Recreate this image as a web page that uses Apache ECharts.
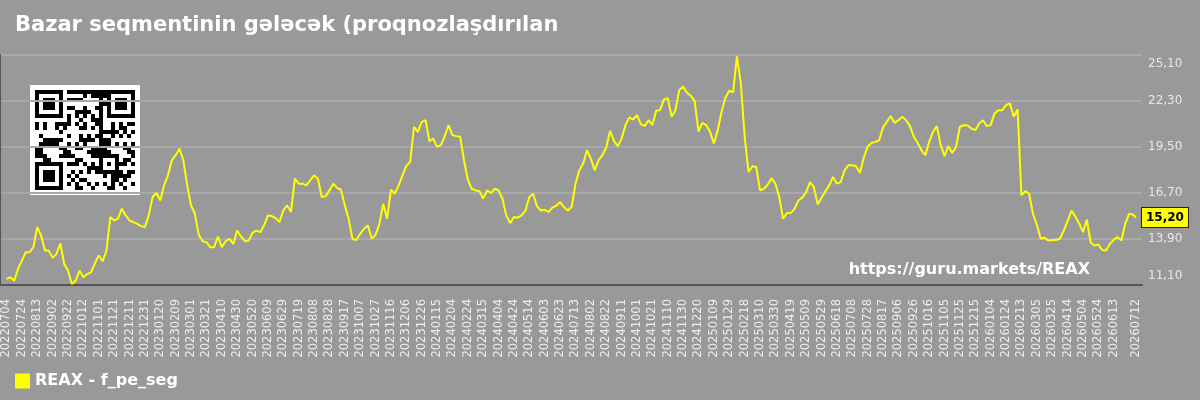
<!DOCTYPE html>
<html><head><meta charset="utf-8">
<script src="https://cdn.jsdelivr.net/npm/echarts@6/dist/echarts.min.js"></script>
<style>html,body{margin:0;padding:0;background:#999999;}#c{width:1200px;height:400px;}</style>
</head><body><div id="c"></div>
<script>
// ---- data ----
const startDate = [2022, 7, 4];   // first category 20220704
const endDate = [2026, 7, 12];    // last category 20260712
const yTicks = [11.1, 13.9, 16.7, 19.5, 22.3, 25.1];
const sampleStep = 5; // values read every 5th day
const valuesA = [11.47,11.57,11.36,12.08,12.58,13.09,13.09,13.40,14.62,14.11,
13.19,13.19,12.75,12.99,13.64,12.38,11.97,11.16,11.36,11.97,
11.57,11.77,11.87,12.42,12.89,12.54,13.19,15.23,15.02,15.13,
15.74,15.33,15.02,14.92,14.82,14.68,14.62,15.33,16.45,16.69,
16.24,17.16,17.77,18.68,18.99,19.39,18.68,17.16,15.94,15.43,
14.15,13.76,13.70,13.40,13.40,14.05,13.40,13.76,13.91,13.60,
14.41,14.05,13.76,13.80,14.27,14.41,14.31,14.72,15.33,15.29,
15.17,14.92,15.63,15.94,15.53,17.56,17.26];
const valuesB = [17.26,17.16,17.46,17.77,17.56,16.45,16.49,16.85,17.26,17.00,
16.89,15.94,15.13,13.89,13.84,14.21,14.52,14.72,13.91,14.15,
14.82,16.04,15.13,16.89,16.65,17.16,17.77,18.34,18.58,20.72,
20.41,21.02,21.12,19.84,20.00,19.50,19.60,20.15,20.82,20.21,
20.15,20.11,18.68,17.50,16.95,16.85,16.81,16.35,16.85,16.69,
16.95,16.85,16.35,15.33,14.86,15.23,15.19,15.33,15.63,16.45,
16.65,15.88,15.63,15.67,15.53,15.80,15.92,16.14,15.84,15.63,
15.84,17.26,18.07,18.48,19.29,18.78,18.07,18.68];
const valuesC = [18.99,19.46,20.47,19.86,19.54,20.00,20.82,21.29,21.16,21.43,
20.88,20.76,21.12,20.82,21.69,21.73,22.38,22.46,21.33,21.73,
22.95,23.16,22.79,22.59,22.30,20.43,20.96,20.82,20.41,19.70,
20.51,21.63,22.48,22.91,22.81,25.00,23.39,20.15,17.97,18.32,
18.28,16.85,16.95,17.20,17.59,17.26,16.45,15.13,15.47,15.47,
15.74,16.24,16.41,16.75,17.36,17.06,16.00,16.41,16.79,17.16,
17.67,17.26,17.36,18.07,18.38,18.38,18.32,17.91,18.85,19.50,
19.74,19.80,19.90,20.68,21.02,21.37,20.96,21.12];
const valuesD = [21.33,21.12,20.76,20.11,19.74,19.29,18.99,19.80,20.41,20.76,
19.60,18.93,19.54,19.13,19.50,20.72,20.82,20.80,20.61,20.51,
20.92,21.12,20.76,20.82,21.53,21.73,21.73,22.04,22.14,21.33,
21.77,16.55,16.81,16.65,15.43,14.78,13.91,13.97,13.80,13.84,
13.84,13.91,14.41,14.98,15.63,15.27,14.86,14.31,15.08,13.70,
13.50,13.56,13.23,13.19,13.60,13.84,14.01,13.80,14.82,15.43,
15.39];
const lastValue = 15.20;
const seriesName = 'REAX - f_pe_seg';
const titleText = 'Bazar seqmentinin gələcək (proqnozlaşdırılan';
const watermark = 'https://guru.markets/REAX';

// ---- build categories ----
const pad = n => (n < 10 ? '0' : '') + n;
const categories = [];
{
  let t = Date.UTC(startDate[0], startDate[1]-1, startDate[2]);
  const tEnd = Date.UTC(endDate[0], endDate[1]-1, endDate[2]);
  while (t <= tEnd) {
    const d = new Date(t);
    categories.push('' + d.getUTCFullYear() + pad(d.getUTCMonth()+1) + pad(d.getUTCDate()));
    t += 86400000;
  }
}
const last = categories.length - 1;
const sampleValues = valuesA.concat(valuesB, valuesC, valuesD);
const seriesData = sampleValues.map((v, i) => [i * sampleStep, v]);
seriesData.push([last, lastValue]);

const fmt = v => v.toFixed(2).replace('.', ',');

// ---- QR-like decoration ----
function qrChildren() {
  const N = 25, M = 4, B = 5, out = [];
  out.push({type:'rect', shape:{x:0,y:0,width:N*M+2*B,height:N*M+2*B}, style:{fill:'#fff'}});
  const inFinder = (r, c, r0, c0) => {
    const rr = r - r0, cc = c - c0;
    if (rr < 0 || cc < 0 || rr > 6 || cc > 6) return null;
    if (rr === 0 || rr === 6 || cc === 0 || cc === 6) return true;
    if (rr >= 2 && rr <= 4 && cc >= 2 && cc <= 4) return true;
    return false;
  };
  for (let r = 0; r < N; r++) for (let c = 0; c < N; c++) {
    let dark = null;
    for (const [r0, c0] of [[0,0],[0,N-7],[N-7,0]]) {
      const f = inFinder(r, c, r0, c0); if (f !== null) dark = f;
    }
    if (dark === null) {
      if ((r === 7 && (c < 8 || c > N-9)) || (c === 7 && (r < 8 || r > N-9)) || (r === N-8 && c === 7)) dark = false;
      else if (r >= 16 && r <= 20 && c >= 16 && c <= 20) {
        const rr = r - 16, cc = c - 16;
        dark = (rr === 0 || rr === 4 || cc === 0 || cc === 4 || (rr === 2 && cc === 2));
      } else if (r === 6) dark = c % 2 === 0;
      else if (c === 6) dark = r % 2 === 0;
      else dark = ((r * 7 + c * 13 + r * c * 3 + (r ^ c)) % 7) < 3;
    }
    if (dark) out.push({type:'rect', shape:{x:B+c*M, y:B+r*M, width:M, height:M}, style:{fill:'#000'}});
  }
  return out;
}

const chart = echarts.init(document.getElementById('c'), null, {renderer:'canvas'});
const FONT = 'DejaVu Sans';
chart.setOption({
  backgroundColor: '#999999',
  animation: false,
  textStyle: {fontFamily: FONT},
  title: {
    text: titleText, left: 15, top: 15, padding: 0,
    textStyle: {color:'#ffffff', fontSize: 21, fontWeight:'bold', fontFamily: FONT}
  },
  legend: {
    left: 15, top: 373, padding: 0, icon: 'rect', itemWidth: 15, itemHeight: 15, itemGap: 10,
    textStyle: {color:'#ffffff', fontSize: 16, fontWeight:'bold', fontFamily: FONT},
    data: [seriesName]
  },
  grid: [
    {left: 0, right: 58, top: 54.7, bottom: 115},
    {left: 6.5, right: 64, top: 54.7, bottom: 115}
  ],
  xAxis: [
    {gridIndex: 0, type:'value', min:0, max:1, axisLine:{show:true, lineStyle:{color:'#555555', width:2}},
     axisTick:{show:false}, axisLabel:{show:false}, splitLine:{show:false}},
    {gridIndex: 1, type:'category', data: categories, boundaryGap:false,
     axisLine:{show:false}, axisTick:{show:false}, splitLine:{show:false},
     axisLabel:{rotate:90, color:'#eeeeee', fontSize:11.5, fontFamily: FONT, margin: 14,
       interval: (idx) => (idx % 20 === 0 && last - idx >= 20) || idx === last}}
  ],
  yAxis: [
    {gridIndex: 0, type:'value', position:'left', min:11.1, max:25.1,
     axisLine:{show:true, lineStyle:{color:'#555555', width:2}},
     axisTick:{show:false, customValues: yTicks}, axisLabel:{show:false},
     splitLine:{show:true, lineStyle:{color:'#a8a8a8', width:2}}},
    {gridIndex: 0, type:'value', position:'right', min:11.1, max:25.1,
     axisLine:{show:false}, axisTick:{show:false, customValues: yTicks}, splitLine:{show:false},
     axisLabel:{show:true, customValues: yTicks, color:'#e8e8e8', fontSize:12, lineHeight:19, fontFamily: FONT, margin:6,
       formatter: v => fmt(v), verticalAlignMinLabel:'bottom', verticalAlignMaxLabel:'top'}},
    {gridIndex: 1, type:'value', min:11.1, max:25.1, show:false}
  ],
  graphic: [
    {type:'group', left: 30, top: 85, children: qrChildren()},
    {type:'text', right: 110, top: 262, style:{text: watermark, fill:'#ffffff', font:'bold 16px "DejaVu Sans"'}}
  ],
  series: [{
    name: seriesName, type:'line', xAxisIndex:1, yAxisIndex:2,
    data: seriesData, showSymbol:false, symbol:'none',
    lineStyle:{color:'#ffff00', width:2}, itemStyle:{color:'#ffff00'},
    endLabel:{show:true, distance:6, formatter: p => fmt(p.value[1]),
      color:'#000', fontWeight:'bold', fontSize:12, fontFamily: FONT,
      backgroundColor:'#ffff00', borderColor:'#222', borderWidth:1, padding:[4,4,3,4]}
  }]
});
</script></body></html>
